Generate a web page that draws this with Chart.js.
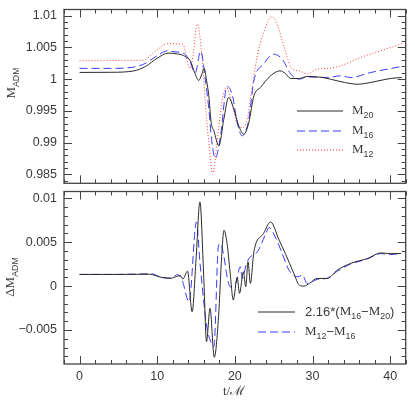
<!DOCTYPE html>
<html>
<head>
<meta charset="utf-8">
<script src="https://cdn.jsdelivr.net/npm/chart.js@4.4.1/dist/chart.umd.min.js"></script>
<style>
    html, body { margin: 0; padding: 0; background: #fff; }
    #wrap { position: relative; width: 415px; height: 415px; }
    #top { position: absolute; left: 0; top: 0; }
    #bot { position: absolute; left: 0; top: 190px; }
</style>
</head>
<body>
<div id="wrap">
    <canvas id="top" width="415" height="190"></canvas>
    <canvas id="bot" width="415" height="225"></canvas>
</div>
<script>
// [t/M, value]
const m20 = [
    [0, 1.00106], [4, 1.00108], [7, 1.0013], [8.5, 1.002], [10, 1.0033], [11.4, 1.0041],
    [12.5, 1.004], [13.4, 1.0037], [14.3, 1.0028], [14.8, 1.0011], [15.35, 0.9998], [15.75, 1.0008],
    [16.05, 1.0017], [16.35, 0.9998], [16.65, 0.99737], [16.95, 0.99317], [17.3, 0.99185], [17.94, 0.98948],
    [18.58, 0.99369], [19.2, 0.99711], [19.87, 0.99527], [20.5, 0.99264], [21.16, 0.99133], [21.8, 0.99317],
    [22.45, 0.99737], [23.3, 0.99869], [24.6, 1.00052], [25.8, 1.00131], [26.5, 1.0009], [27.2, 1.0001],
    [28.3, 1.0001], [29.3, 1.00042], [31.1, 1.0003], [32.3, 1.0], [34.1, 0.99948], [35.8, 0.9992],
    [37.9, 0.99958], [40, 1.0001], [41.5, 1.00026],
];
const m16 = [
    [0, 1.0017], [4, 1.0017], [7, 1.0019], [8.5, 1.0025], [10, 1.0037], [11.3, 1.00446],
    [12.3, 1.0043], [13.2, 1.0042], [14.1, 1.0031], [14.9, 1.001], [15.6, 1.0044], [16.2, 1.0],
    [16.65, 0.99527], [17.0, 0.9905], [17.5, 0.9875], [18.15, 0.99106], [19.0, 0.99885], [19.7, 0.99737],
    [20.3, 0.99317], [20.95, 0.99106], [21.8, 0.99369], [22.45, 0.99973], [23.7, 1.00237], [25.0, 1.00394],
    [26.1, 1.00315], [27.2, 1.0008], [28.3, 1.0], [29.3, 1.00035], [31.9, 1.00026], [33.6, 1.00052],
    [34.9, 1.00026], [37.5, 1.00105], [40.1, 1.00168], [41.5, 1.002],
];
const m12 = [
    [0, 1.00289], [6, 1.00295], [8.2, 1.003], [9.8, 1.0044], [11.3, 1.0056], [13.3, 1.0055],
    [14.2, 1.0017], [14.6, 1.0035], [15.15, 1.00867], [15.8, 1.00315], [16.2, 0.99632], [16.65, 0.99],
    [17.16, 0.98502], [17.7, 0.99], [18.4, 0.99685], [18.9, 0.99869], [19.7, 0.99579], [20.3, 0.9929],
    [20.95, 0.99238], [21.6, 0.99369], [22.0, 0.99685], [22.9, 1.00368], [23.7, 1.00736], [24.8, 1.00989],
    [25.5, 1.0084], [26.3, 1.00525], [27.4, 1.00158], [28.3, 1.00131], [29.3, 1.00079], [30.6, 1.00158],
    [31.9, 1.00168], [33.6, 1.0021], [36.2, 1.00342], [38.8, 1.00447], [41.5, 1.0056],
];
const diffScaled = [
    [0, 0.00133], [5, 0.00133], [9, 0.00135], [10.5, 0.001], [11.8, 0.0009], [12.5, 0.0011],
    [13.0, 0.0012], [13.3, 0.0008], [13.9, 0.0017], [14.5, -0.00292], [15.0, 0.003], [15.5, 0.00958],
    [16.0, 0.00087], [16.35, -0.00633], [16.8, -0.00253], [17.35, -0.0081], [17.9, -0.00349], [18.3, 0.00333],
    [18.6, 0.00636], [19.0, 0.00485], [19.4, 0.00144], [19.8, -0.00159], [20.3, 0.00099], [20.6, -0.00083],
    [21.1, 0.00163], [21.4, -0.00008], [21.7, 0.00276], [22.0, 0.0003], [22.45, 0.0039], [23.7, 0.006],
    [24.6, 0.0073], [25.7, 0.00523], [26.5, 0.00371], [27.6, 0.00144], [28.3, 0.00011], [28.9, 0.0],
    [29.6, 0.0003], [30.6, 0.00087], [31.9, 0.00087], [33.2, 0.00182], [34.9, 0.00258], [37.1, 0.00315],
    [38.8, 0.00378], [40, 0.0037], [41.4, 0.00371],
];
const diff1216 = [
    [0, 0.00133], [5, 0.00133], [9.3, 0.0014], [10.5, 0.001], [11.8, 0.0009], [12.6, 0.0013],
    [13.2, 0.0007], [14.1, -0.00178], [15.06, 0.0073], [15.5, 0.00276], [16.35, -0.00443], [16.9, -0.00633],
    [17.3, -0.0069], [17.9, 0.00466], [18.15, 0.00485], [18.6, 0.00333], [19.0, 0.00106], [19.4, -0.00008],
    [20.1, 0.0003], [20.7, 0.0022], [20.95, 0.00087], [21.5, 0.00258], [22.0, 0.00333], [22.9, 0.0039],
    [24.0, 0.006], [24.4, 0.00667], [25.2, 0.0056], [26.1, 0.00371], [26.97, 0.00182], [28.1, 0.00106],
    [28.7, 0.00125], [29.3, 0.0003], [30.6, 0.00076], [31.9, 0.0009], [33.2, 0.0017], [34.9, 0.0025],
    [37.1, 0.0031], [38.8, 0.0037], [40, 0.0036], [41.4, 0.0037],
];

const xRange = [-2, 42];
const topRange = [0.98358, 1.01098];
const botRange = [-0.00887, 0.01077];

const SANS = '"Liberation Sans", Arial, sans-serif';
const SERIF = '"Liberation Serif", "Times New Roman", serif';
const INK = '#3a3a3a';

const styles = {
    black: { color: '#2a2a2a', dash: [] },
    blue:  { color: '#3a3aff', dash: [8, 4] },
    red:   { color: '#ff3b3b', dash: [1, 2] },
};

const pts = (arr) => arr.map(([x, y]) => ({ x, y }));

function line(arr, s) {
    return {
        data: pts(arr),
        borderColor: s.color,
        borderDash: s.dash,
        borderWidth: 1,
        pointRadius: 0,
        cubicInterpolationMode: 'monotone',
    };
}

function measureRuns(ctx, runs, size) {
    let w = 0;
    for (const r of runs) {
        ctx.font = `${r.sub ? size * 0.68 : size}px ${r.serif ? SERIF : SANS}`;
        w += ctx.measureText(r.t).width;
    }
    return w;
}

function drawRuns(ctx, x, y, runs, size) {
    ctx.textBaseline = 'middle';
    ctx.textAlign = 'left';
    for (const r of runs) {
        ctx.font = `${r.sub ? size * 0.68 : size}px ${r.serif ? SERIF : SANS}`;
        ctx.fillText(r.t, x, y + (r.sub ? size * 0.35 : 0));
        x += ctx.measureText(r.t).width;
    }
}

// frame + inward ticks on all four sides, legend, axis titles
const decor = {
    id: 'decor',
    afterDatasetsDraw(chart, args, o) {
        const { ctx, chartArea: a, scales: { x, y } } = chart;
        ctx.save();
        ctx.strokeStyle = '#444';
        ctx.lineWidth = 1.3;
        ctx.strokeRect(a.left, a.top, a.right - a.left, a.bottom - a.top);
        ctx.lineWidth = 1;
        ctx.beginPath();
        for (let k = -20; k <= 50; k++) {
            const v = k * 2;
            if (v < x.min || v > x.max) continue;
            const px = Math.round(x.getPixelForValue(v)) + 0.5;
            const len = v % 10 === 0 ? 8 : 4;
            ctx.moveTo(px, a.top); ctx.lineTo(px, a.top + len);
            ctx.moveTo(px, a.bottom); ctx.lineTo(px, a.bottom - len);
        }
        for (let k = Math.ceil(y.min * 1000); k <= Math.floor(y.max * 1000); k++) {
            const py = Math.round(y.getPixelForValue(k / 1000)) + 0.5;
            const len = k % 5 === 0 ? 8 : 4;
            ctx.moveTo(a.left, py); ctx.lineTo(a.left + len, py);
            ctx.moveTo(a.right, py); ctx.lineTo(a.right - len, py);
        }
        ctx.stroke();

        ctx.fillStyle = INK;
        for (const it of o.legend) {
            ctx.strokeStyle = it.style.color;
            ctx.setLineDash(it.style.dash);
            ctx.beginPath();
            ctx.moveTo(o.lx1, it.y); ctx.lineTo(o.lx2, it.y);
            ctx.stroke();
            ctx.setLineDash([]);
            drawRuns(ctx, o.tx, it.y, it.runs, 13);
        }

        const yl = o.ylabel;
        ctx.save();
        ctx.translate(yl.x, yl.y);
        ctx.rotate(-Math.PI / 2);
        drawRuns(ctx, -measureRuns(ctx, yl.runs, 13) / 2, 0, yl.runs, 13);
        ctx.restore();

        if (o.xlabel) {
            const xl = o.xlabel;
            drawRuns(ctx, xl.x - measureRuns(ctx, xl.runs, 13) / 2, xl.y, xl.runs, 13);
        }
        ctx.restore();
    },
};

function fixAxis(w, h) {
    return (s) => {
        if (w != null) s.width = w;
        if (h != null) s.height = h;
        s.paddingTop = 0; s.paddingBottom = 0; s.paddingLeft = 0; s.paddingRight = 0;
    };
}

const fmt = (v) => String(+v.toFixed(4)).replace('-', '\u2212');
const tickFont = { family: SANS, size: 12.5 };

new Chart(document.getElementById('top'), {
    type: 'line',
    data: { datasets: [line(m20, styles.black), line(m16, styles.blue), line(m12, styles.red)] },
    options: {
        responsive: false,
        animation: false,
        layout: { padding: { left: 0, top: 9.5, right: 9.3, bottom: 6.7 } },
        plugins: {
            legend: { display: false },
            tooltip: { enabled: false },
            decor: {
                lx1: 297, lx2: 343, tx: 352,
                legend: [
                    { style: styles.black, y: 111, runs: [{ t: 'M', serif: true }, { t: '20', sub: true }] },
                    { style: styles.blue, y: 131, runs: [{ t: 'M', serif: true }, { t: '16', sub: true }] },
                    { style: styles.red, y: 150, runs: [{ t: 'M', serif: true }, { t: '12', sub: true }] },
                ],
                ylabel: { x: 12, y: 83, runs: [{ t: 'M', serif: true }, { t: 'ADM', sub: true }] },
            },
        },
        scales: {
            x: { type: 'linear', min: xRange[0], max: xRange[1], display: false },
            y: {
                min: topRange[0], max: topRange[1],
                grid: { display: false, drawTicks: false },
                border: { display: false },
                ticks: { stepSize: 0.005, includeBounds: false, padding: 7, color: INK, font: tickFont, callback: fmt },
                afterFit: fixAxis(64, null),
            },
        },
    },
    plugins: [decor],
});

new Chart(document.getElementById('bot'), {
    type: 'line',
    data: { datasets: [line(diffScaled, styles.black), line(diff1216, styles.blue)] },
    options: {
        responsive: false,
        animation: false,
        layout: { padding: { left: 0, top: 1.5, right: 9.3, bottom: 0 } },
        plugins: {
            legend: { display: false },
            tooltip: { enabled: false },
            decor: {
                lx1: 258, lx2: 295, tx: 305,
                legend: [
                    { style: styles.black, y: 122, runs: [{ t: '2.16*(' }, { t: 'M', serif: true }, { t: '16', sub: true }, { t: '\u2212' }, { t: 'M', serif: true }, { t: '20', sub: true }, { t: ')' }] },
                    { style: styles.blue, y: 142, runs: [{ t: 'M', serif: true }, { t: '12', sub: true }, { t: '\u2212' }, { t: 'M', serif: true }, { t: '16', sub: true }] },
                ],
                ylabel: { x: 11, y: 87, runs: [{ t: '\u0394M', serif: true }, { t: 'ADM', sub: true }] },
                xlabel: { x: 234, y: 202, runs: [{ t: 't/\u2133', serif: true }] },
            },
        },
        scales: {
            x: {
                type: 'linear', min: xRange[0], max: xRange[1],
                grid: { display: false, drawTicks: false },
                border: { display: false },
                ticks: { stepSize: 10, includeBounds: false, padding: 5, color: INK, font: tickFont, maxRotation: 0, callback: fmt },
                afterFit: fixAxis(null, 51),
            },
            y: {
                min: botRange[0], max: botRange[1],
                grid: { display: false, drawTicks: false },
                border: { display: false },
                ticks: { stepSize: 0.005, includeBounds: false, padding: 7, color: INK, font: tickFont, callback: fmt },
                afterFit: fixAxis(64, null),
            },
        },
    },
    plugins: [decor],
});
</script>
</body>
</html>
